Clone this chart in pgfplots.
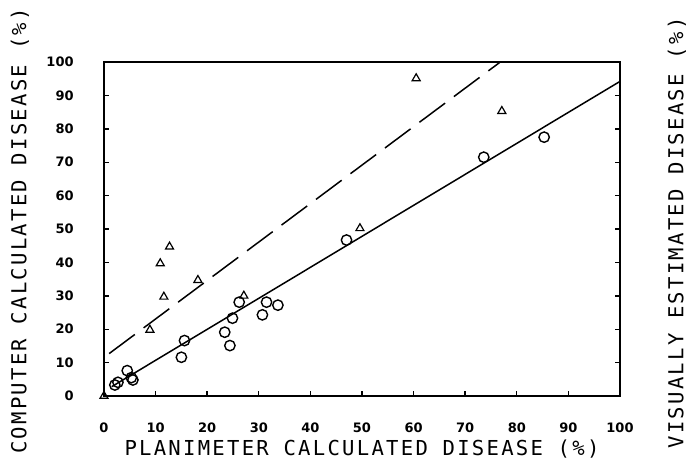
\documentclass[border=0pt]{standalone}
\usepackage{pgfplots}
\pgfplotsset{compat=1.18}
\usepackage{fontspec}
\newfontfamily\plotmono[LetterSpace=11]{DejaVu Sans Mono}
\newfontfamily\ticksans{DejaVu Sans}

\begin{document}
\begin{tikzpicture}
\path[use as bounding box] (-52pt,-33.5pt) rectangle (297pt,198pt);
\begin{axis}[
  scale only axis, width=258pt, height=167pt,
  xmin=0, xmax=100, ymin=0, ymax=100,
  xtick={0,10,...,100}, ytick={0,10,...,100},
  xtick pos=bottom, ytick pos=both, yticklabel pos=left,
  tick align=inside, major tick length=2.5pt,
  axis line style={line width=0.75pt},
  tick style={line width=0.7pt, black},
  /pgf/number format/assume math mode=true,
  ticklabel style={font=\ticksans\bfseries\fontsize{6.5}{7}\selectfont},
  xticklabel style={anchor=north, inner sep=0pt, yshift=-13.3pt},
  yticklabel style={anchor=east, inner sep=0pt, xshift=-15pt},
  clip=false,
]
  % computer calculated (circles)
  \addplot[only marks, mark=o, mark size=2.6pt, mark options={line width=0.7pt}]
    coordinates {(2.1,3.3)(2.7,4.1)(4.5,7.6)(5.3,5.5)(5.6,4.8)
                 (15.0,11.6)(15.6,16.6)(23.4,19.1)(24.4,15.1)(24.9,23.3)
                 (26.2,28.1)(30.7,24.3)(31.5,28.1)(33.7,27.2)
                 (47.0,46.7)(73.6,71.5)(85.3,77.5)};
  % visually estimated (triangles)
  \addplot[only marks, mark=triangle, mark size=2.3pt, mark options={line width=0.6pt}]
    coordinates {(0,0)(8.9,19.8)(11.6,29.7)(10.9,39.7)(12.7,44.7)
                 (18.2,34.7)(27.1,30.0)(49.6,50.2)(60.5,95.1)(77.1,85.3)};
  % regression lines
  \addplot[line width=0.75pt, no marks] coordinates {(1.5,2.8)(100,94.2)};
  \addplot[line width=0.75pt, no marks, dash pattern=on 16pt off 5.5pt]
    coordinates {(1,12.7)(76.8,100)};
\end{axis}
\node[rotate=90, font=\plotmono\fontsize{10.3}{12}\selectfont] at (-42pt,82.5pt)
  {COMPUTER CALCULATED DISEASE (\%)};
\node[font=\plotmono\fontsize{10.3}{12}\selectfont] at (129pt,-26.5pt)
  {PLANIMETER CALCULATED DISEASE (\%)};
\node[rotate=90, font=\plotmono\fontsize{10.3}{12}\selectfont] at (286.5pt,81.5pt)
  {VISUALLY ESTIMATED DISEASE (\%)};
\end{tikzpicture}
\end{document}
